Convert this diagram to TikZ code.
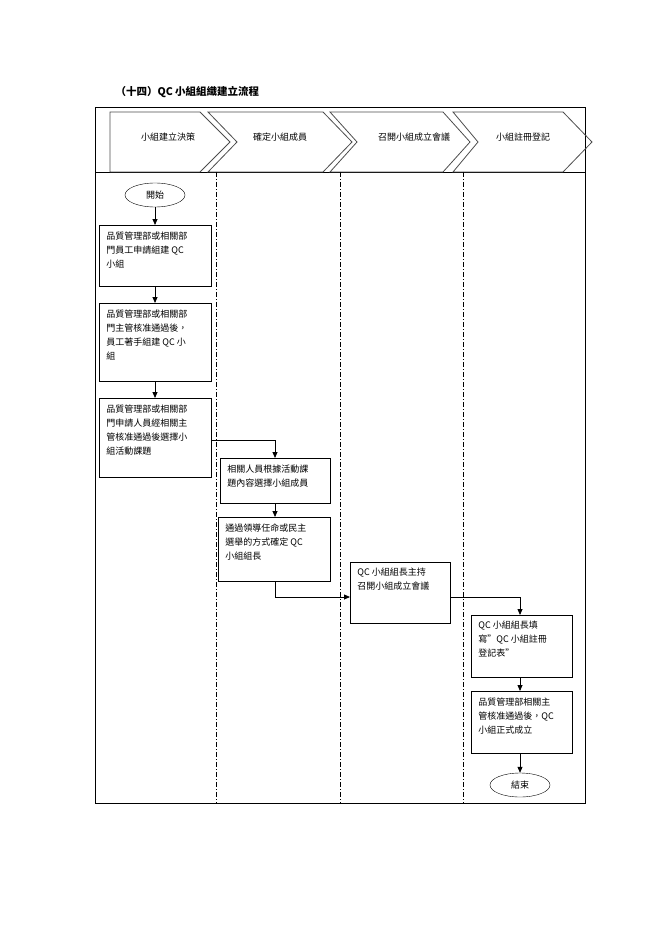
\documentclass[tikz,border=0pt]{standalone}
\usepackage{fontspec}
\setmainfont{Noto Sans CJK TC}
\usetikzlibrary{arrows.meta,shapes.geometric}
\begin{document}
\begin{tikzpicture}[x=1pt,y=-1pt,
  box/.style={draw,thick,anchor=north west,inner xsep=7pt,inner ysep=6pt,font=\fontsize{9}{14}\selectfont},
  term/.style={draw,ellipse,minimum width=60pt,minimum height=24pt,inner sep=0pt,font=\fontsize{9}{11}\selectfont},
  arr/.style={-{Triangle[length=6pt,width=5pt]},thick},
  lane/.style={dash pattern=on 5pt off 2pt on 1pt off 2pt},
  chev/.style={draw=black!70,line width=0.8pt},
  ct/.style={font=\fontsize{9}{11}\selectfont}]
\useasboundingbox (0,0) rectangle (662,936);
\node[anchor=west,font=\bfseries\fontsize{10.5}{12}\selectfont] (title) at (112,92) {（十四）QC 小組組織建立流程};
\draw (95,107) rectangle (585,803);
\draw (95,172) -- (585,172);
% chevrons
\draw[chev] (110,112) -- (200,112) -- (230,142) -- (200,172) -- (110,172) -- cycle;
\draw[chev] (208,112) -- (323,112) -- (352,142) -- (323,172) -- (208,172) -- (237,142) -- cycle;
\draw[chev] (330,112) -- (443,112) -- (470,142) -- (443,172) -- (330,172) -- (357,142) -- cycle;
\draw[chev] (453,112) -- (563,112) -- (592,142) -- (563,172) -- (453,172) -- (478,142) -- cycle;
\node[ct] (c1) at (168,137) {小組建立決策};
\node[ct] (c2) at (280,137) {確定小組成員};
\node[ct] (c3) at (414,137) {召開小組成立會議};
\node[ct] (c4) at (523,137) {小組註冊登記};
% lanes
\foreach \x in {216,340,463} \draw[lane] (\x,172) -- (\x,803);
% nodes
\node[term] (start) at (155,195) {開始};
\node[box] (b1) at (99,225) {\parbox[t][49pt][t]{98pt}{品質管理部或相關部\\門員工申請組建 QC\\小組}};
\node[box] (b2) at (99,303) {\parbox[t][66pt][t]{98pt}{品質管理部或相關部\\門主管核准通過後，\\員工著手組建 QC 小\\組}};
\node[box] (b3) at (99,398) {\parbox[t][67pt][t]{98pt}{品質管理部或相關部\\門申請人員經相關主\\管核准通過後選擇小\\組活動課題}};
\node[box] (b4) at (220,458) {\parbox[t][33pt][t]{96pt}{相關人員根據活動課\\題內容選擇小組成員}};
\node[box] (b5) at (218,517) {\parbox[t][52pt][t]{98pt}{通過領導任命或民主\\選舉的方式確定 QC\\小組組長}};
\node[box] (b6) at (350,562) {\parbox[t][49pt][t]{86pt}{QC 小組組長主持\\召開小組成立會議}};
\node[box] (b7) at (471,615) {\parbox[t][50pt][t]{87pt}{QC 小組組長填\\寫”QC 小組註冊\\登記表”}};
\node[box] (b8) at (471,691) {\parbox[t][50pt][t]{87pt}{品質管理部相關主\\管核准通過後，QC\\小組正式成立}};
\node[term] (end) at (520,785) {結束};
% connectors
\draw[arr] (start) -- (b1.north -| start);
\draw[arr] (b1.south -| start) -- (b2.north -| start);
\draw[arr] (b2.south -| start) -- (b3.north -| start);
\coordinate (k1) at (275,440);
\draw[arr] (b3.east |- k1) -- (k1) -- (b4.north -| k1);
\draw[arr] (b4.south -| k1) -- (b5.north -| k1);
\coordinate (k2) at (275,597);
\draw[arr] (b5.south -| k2) -- (k2) -- (b6.west |- k2);
\coordinate (k3) at (520,597);
\draw[arr] (b6.east |- k3) -- (k3) -- (b7.north -| k3);
\draw[arr] (b7.south -| k3) -- (b8.north -| k3);
\draw[arr] (b8.south -| k3) -- (end);
\end{tikzpicture}
\end{document}
